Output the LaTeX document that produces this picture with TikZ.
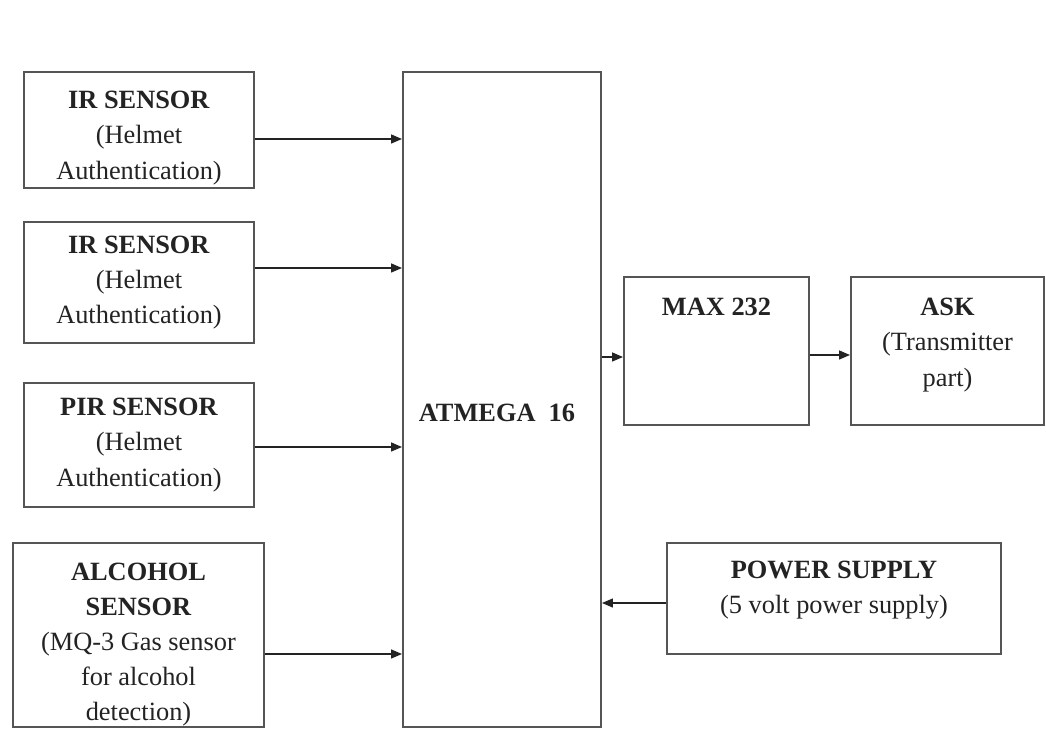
\documentclass[tikz,border=0pt]{standalone}
\usepackage{fontspec}
\setmainfont{Liberation Serif}
\usepackage{tikz}
\usetikzlibrary{positioning,calc}
\usetikzlibrary{arrows.meta}
\definecolor{BoxGray}{RGB}{85,85,85}
\definecolor{InkGray}{RGB}{35,35,35}
\tikzset{
  blk/.style={draw=BoxGray,line width=1.1pt,fill=white,align=center,inner sep=0pt,
    text=InkGray,font=\fontsize{15}{20}\selectfont},
  feed/.style={draw=InkGray,line width=0.8pt,-{Triangle[length=2.2mm,width=1.8mm]}},
}

\begin{document}
\begin{tikzpicture}
\useasboundingbox (0,0) rectangle (20.92,-14.62);
% sensor blocks
\node[blk,minimum width=4.6cm,minimum height=2.32cm] (ir1) at (2.78,-2.60)
  {\rule{0pt}{19pt}\textbf{IR SENSOR}\\(Helmet\\Authentication)};
\node[blk,minimum width=4.6cm,minimum height=2.42cm] (ir2) at (2.78,-5.65)
  {\textbf{IR SENSOR}\\(Helmet\\Authentication)};
\node[blk,minimum width=4.6cm,minimum height=2.48cm] (pir) at (2.78,-8.90)
  {\textbf{PIR SENSOR}\\(Helmet\\Authentication)};
\node[blk,minimum width=5.02cm,minimum height=3.68cm] (alc) at (2.77,-12.70)
  {\rule{0pt}{21pt}\textbf{ALCOHOL}\\\textbf{SENSOR}\\(MQ-3 Gas sensor\\for alcohol\\detection)};
% controller
\node[blk,minimum width=3.96cm,minimum height=13.10cm] (atm) at (10.04,-7.99) {};
\node[text=InkGray,font=\fontsize{15}{20}\selectfont\bfseries] (atmlbl) at (9.94,-8.26) {ATMEGA\ \ 16};
% output side
\node[blk,minimum width=3.70cm,minimum height=2.96cm] (max) at (14.33,-7.02)
  {\textbf{MAX 232}\\[30pt]\mbox{}};
\node[blk,minimum width=3.86cm,minimum height=2.96cm] (ask) at (18.95,-7.02)
  {\textbf{ASK}\\(Transmitter\\part)\\[-10pt]\mbox{}};
\node[blk,minimum width=6.68cm,minimum height=2.22cm] (pwr) at (16.68,-11.97)
  {\textbf{POWER SUPPLY}\\(5 volt power supply)\\[-7.5pt]\mbox{}};
% connections
\draw[feed] ($(ir1.east)+(0,-0.18)$) -- ($(ir1.east -| atm.west)+(0,-0.18)$);
\draw[feed] ($(ir2.east)+(0,0.29)$) -- ($(ir2.east -| atm.west)+(0,0.29)$);
\draw[feed] ($(pir.east)+(0,-0.04)$) -- ($(pir.east -| atm.west)+(0,-0.04)$);
\draw[feed] ($(alc.east)+(0,-0.38)$) -- ($(alc.east -| atm.west)+(0,-0.38)$);
\draw[feed] ($(max.west -| atm.east)+(0,-0.12)$) -- ($(max.west)+(0,-0.12)$);
\draw[feed] ($(max.east)+(0,-0.08)$) -- ($(ask.west)+(0,-0.08)$);
\draw[feed] ($(pwr.west)+(0,-0.09)$) -- ($(pwr.west -| atm.east)+(0,-0.09)$);
\end{tikzpicture}
\end{document}
